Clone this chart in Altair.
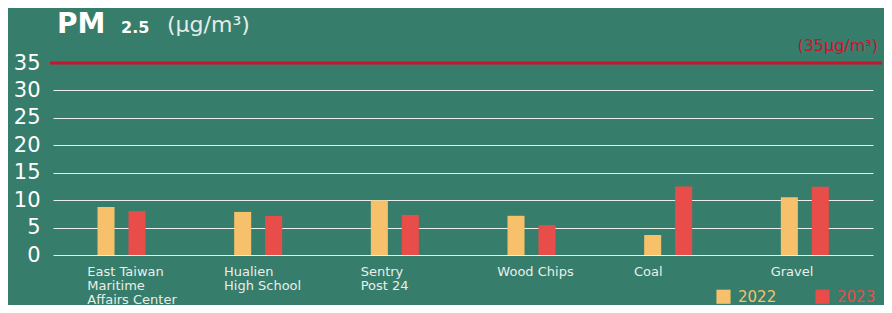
import altair as alt
import pandas as pd

categories = ["East Taiwan\nMaritime\nAffairs Center", "Hualien\nHigh School", "Sentry\nPost 24",
              "Wood Chips", "Coal", "Gravel"]
years = ["2022", "2023"]
values_2022 = [8.75, 7.85, 9.95, 7.15, 3.65, 10.55]
values_2023 = [8.0, 7.1, 7.3, 5.45, 12.5, 12.45]
year_colors = ["#F7C06B", "#E94D4A"]
y_ticks = [0, 5, 10, 15, 20, 25, 30, 35]
limit_value = 35
limit_label = "(35μg/m³)"
title_main = "PM"
title_sub = "2.5"
title_unit = "(μg/m³)"

rows = []
for c, a, b in zip(categories, values_2022, values_2023):
    rows.append({"site": c, "year": years[0], "value": a})
    rows.append({"site": c, "year": years[1], "value": b})
df = pd.DataFrame(rows)

BG = "#367D6B"
RED = "#C8142C"
W, H = 829, 192
FONT = "DejaVu Sans"

y_scale = alt.Scale(domain=[0, 35], nice=False, zero=True)
y_axis = alt.Axis(values=y_ticks, tickCount=8, title=None, grid=True, gridColor="#E9F0EC", gridWidth=1,
                  domain=False, ticks=False, labelFontSize=21, labelPadding=13, labelOverlap=False,
                  labelColor="#FFFFFF", labelFont=FONT)

bars = alt.Chart(df).mark_bar().encode(
    x=alt.X("site:N", sort=categories,
            scale=alt.Scale(range=[0, 820], paddingInner=0, paddingOuter=0),
            axis=alt.Axis(title=None, labelExpr="split(datum.label, '\\n')", labelAlign="left",
                          labelOffset=-34, labelPadding=10, labelFont=FONT, labelFontSize=13,
                          labelColor="#E8EFEA", labelLineHeight=14, domain=False, ticks=False,
                          labelAngle=0, grid=False, labelOverlap=False)),
    xOffset=alt.XOffset("year:N", sort=years,
                        scale=alt.Scale(range=[44.5, 92.5], paddingInner=0.45, paddingOuter=0)),
    y=alt.Y("value:Q", scale=y_scale, axis=y_axis),
    color=alt.Color("year:N", scale=alt.Scale(domain=years, range=year_colors),
                    legend=alt.Legend(title=None, orient="none", legendX=663, legendY=226,
                                      direction="horizontal", symbolType="square", symbolSize=200,
                                      symbolStrokeWidth=0, symbolOpacity=1, labelFont=FONT, labelFontSize=15,
                                      labelOffset=7, columnPadding=38, padding=0,
                                      labelColor=alt.ExprRef(expr="datum.label == '2022' ? '#F7C06B' : '#E94D4A'"))),
)

rule = alt.Chart(alt.Data(values=[{}])).mark_rule(color=RED, strokeWidth=3).encode(
    y=alt.YDatum(limit_value, type="quantitative", scale=y_scale, axis=y_axis),
    x=alt.value(-3), x2=alt.value(W)
)

limit_text = alt.Chart(alt.Data(values=[{}])).mark_text(
    align="right", baseline="middle", font=FONT, fontSize=16, color=RED, text=limit_label
).encode(x=alt.value(825), y=alt.value(-17))

t1 = alt.Chart(alt.Data(values=[{}])).mark_text(
    align="left", baseline="alphabetic", font=FONT, fontSize=28, fontWeight="bold",
    color="#FFFFFF", text=title_main
).encode(x=alt.value(4), y=alt.value(-30))

t2 = alt.Chart(alt.Data(values=[{}])).mark_text(
    align="left", baseline="alphabetic", font=FONT, fontSize=16, fontWeight="bold",
    color="#FFFFFF", text=title_sub
).encode(x=alt.value(68), y=alt.value(-30))

t3 = alt.Chart(alt.Data(values=[{}])).mark_text(
    align="left", baseline="alphabetic", font=FONT, fontSize=22, fontWeight="normal",
    color="#E3EDE8", text=title_unit
).encode(x=alt.value(114), y=alt.value(-31))

chart = alt.layer(bars, rule, limit_text, t1, t2, t3).properties(
    width=W, height=H,
    padding={"left": 45, "top": 55, "right": 2, "bottom": 50},
    autosize=alt.AutoSizeParams(type="none"),
    background=BG,
).configure_view(stroke=None)

chart.save("out.html", embed_options={"renderer": "svg", "actions": False})
